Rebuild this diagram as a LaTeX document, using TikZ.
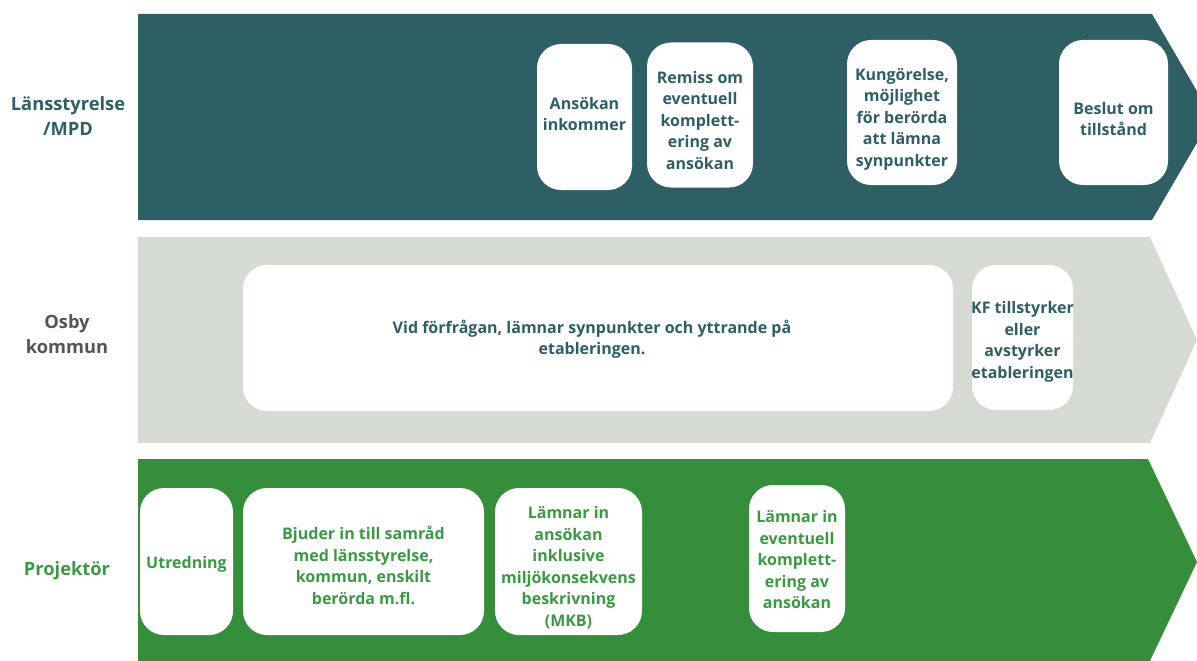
\documentclass[tikz,border=0pt]{standalone}
\usepackage{fontspec}
\setmainfont{Open Sans}
\usepackage{xcolor}
\usepackage{tikz}

\definecolor{lanscol}{HTML}{2D5F64}
\definecolor{kommuncol}{HTML}{D5DAD2}
\definecolor{kommuntext}{HTML}{555555}
\definecolor{projcol}{HTML}{358F3A}
\definecolor{projtext}{HTML}{3A9A42}

\tikzset{
    box/.style = {fill=white, rounded corners=24pt, inner sep=0pt},
    boxtext/.style = {align=center, inner sep=0pt, font=\fontsize{16}{21.5}\selectfont\bfseries},
    lane/.style = {align=center, font=\fontsize{18.3}{25}\selectfont\bfseries}
}

\begin{document}
\begin{tikzpicture}[x=1pt, y=-1pt]

    % \draw [help lines, step = 50] (0,0) grid (1197,661);
    \useasboundingbox (0,0) rectangle (1197,661);
    \clip (0,0) rectangle (1197,661);

    % bands
    \fill [lanscol] (138,14) -- (1152,14) -- (1212,117) -- (1152,220) -- (138,220) -- cycle;
    \fill [kommuncol] (138,237) -- (1150,237) -- (1197,340) -- (1150,443) -- (138,443) -- cycle;
    \fill [projcol] (138,459) -- (1148,459) -- (1197,562) -- (1148,665) -- (138,665) -- cycle;

    % lane names
    \node [lane, text=lanscol] (lans) at (68,116) {Länsstyrelse\\/MPD};
    \node [lane, text=kommuntext] (osby) at (67,334) {Osby\\kommun};
    \node [lane, text=projtext] (proj) at (67,571) {Projektör};

    % Länsstyrelse
    \node [box, minimum width=95, minimum height=146] (inkommer) at (584.5,117) {};
    \node [boxtext, text=lanscol] (inkommertext) at (584.5,114) {Ansökan\\inkommer};
    \node [box, minimum width=106, minimum height=145] (remiss) at (700,115) {};
    \node [boxtext, text=lanscol] (remisstext) at (700,120) {Remiss om\\eventuell\\komplett-\\ering av\\ansökan};
    \node [box, minimum width=110, minimum height=145] (kungorelse) at (902,112.5) {};
    \node [boxtext, text=lanscol] (kungorelsetext) at (902,119) {Kungörelse,\\möjlighet\\för berörda\\att lämna\\synpunkter};
    \node [box, minimum width=109, minimum height=145] (beslut) at (1113.5,112.5) {};
    \node [boxtext, text=lanscol] (beslutext) at (1113.5,119) {Beslut om\\tillstånd};

    % Osby kommun
    \node [box, minimum width=710, minimum height=146] (yttrande) at (598,338) {};
    \node [boxtext, text=lanscol] (yttrandetext) at (592,339) {Vid förfrågan, lämnar synpunkter och yttrande på\\etableringen.};
    \node [box, minimum width=101, minimum height=145] (kf) at (1022.5,337.5) {};
    \node [boxtext, text=lanscol] (kftext) at (1022.5,342) {KF tillstyrker\\eller\\avstyrker\\etableringen};

    % Projektör
    \node [box, minimum width=93, minimum height=147] (utredning) at (186.5,561.5) {};
    \node [boxtext, text=projtext] (utredningtext) at (186.5,564.5) {Utredning};
    \node [box, minimum width=241, minimum height=147] (samrad) at (363.5,561.5) {};
    \node [boxtext, text=projtext] (samradtext) at (363.5,565.5) {Bjuder in till samråd\\med länsstyrelse,\\kommun, enskilt\\berörda m.fl.};
    \node [box, minimum width=147, minimum height=147] (mkb) at (568.5,561.5) {};
    \node [boxtext, text=projtext] (mkbtext) at (568.5,567.5) {Lämnar in\\ansökan\\inklusive\\miljökonsekvens\\beskrivning\\(MKB)};
    \node [box, minimum width=96, minimum height=147] (komplettering) at (797,558.5) {};
    \node [boxtext, text=projtext] (kompletteringtext) at (797,559.5) {Lämnar in\\eventuell\\komplett-\\ering av\\ansökan};

\end{tikzpicture}
\end{document}
